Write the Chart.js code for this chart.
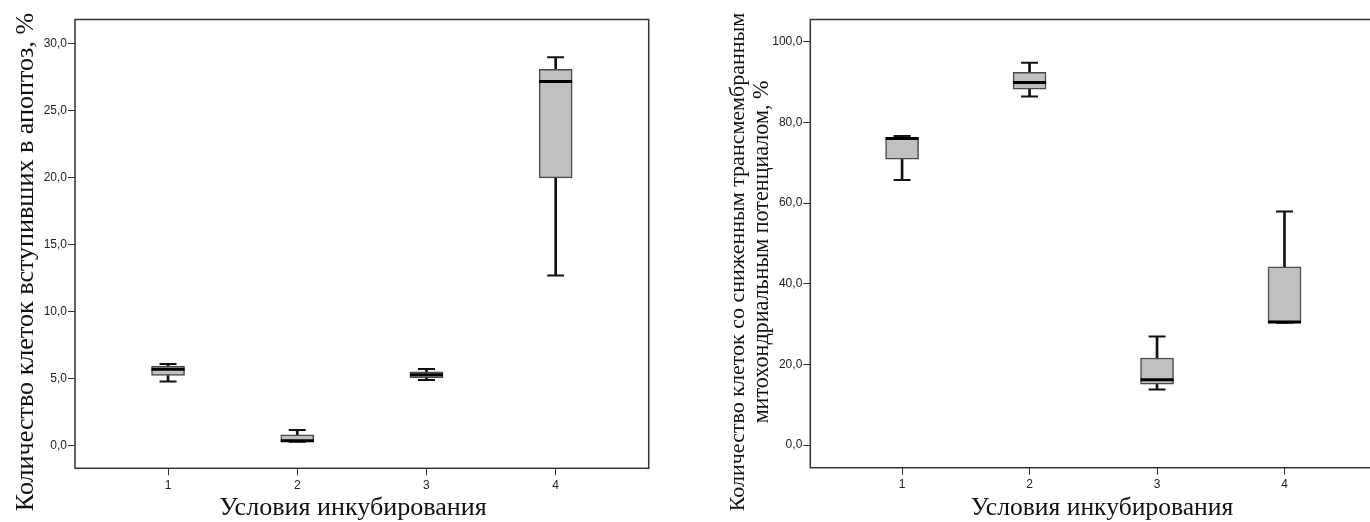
<!DOCTYPE html>
<html>
<head>
<meta charset="utf-8">
<script src="https://cdn.jsdelivr.net/npm/chart.js@4/dist/chart.umd.min.js"></script>
<style>
  body { margin: 0; width: 1370px; height: 522px; overflow: hidden; position: relative; background: #fff; }
  canvas { position: absolute; top: 0; }
</style>
</head>
<body>
<canvas id="apoptosis" width="685" height="522" style="left:0"></canvas>
<canvas id="potential" width="715" height="522" style="left:685px"></canvas>
<script>
// incubation conditions
const categories = [1, 2, 3, 4];

// left: cells in apoptosis, %
const apoMin    = [4.80, 0.30, 4.90, 12.7];
const apoQ1     = [5.25, 0.30, 5.07, 20.0];
const apoMedian = [5.70, 0.37, 5.29, 27.2];
const apoQ3     = [5.94, 0.80, 5.52, 28.1];
const apoMax    = [6.09, 1.17, 5.72, 29.0];
const apoTicks  = [0, 5, 10, 15, 20, 25, 30];

// right: cells with reduced mitochondrial membrane potential, %
const mmpMin    = [65.7, 86.4, 13.8, 30.3];
const mmpQ1     = [70.9, 88.2, 15.1, 30.3];
const mmpMedian = [76.0, 89.9, 16.2, 30.5];
const mmpQ3     = [76.2, 92.4, 21.6, 44.2];
const mmpMax    = [76.6, 94.8, 26.9, 57.9];
const mmpTicks  = [0, 20, 40, 60, 80, 100];

const xTitle = 'Условия инкубирования';
const apoTitle = 'Количество клеток вступивших в апоптоз, %';
const mmpTitle = ['Количество клеток со сниженным трансмембранным', 'митохондриальным потенциалом, %'];

// frame around the plot area
const frame = {
  id: 'frame',
  beforeDatasetsDraw(chart) {
    const { ctx, chartArea: a } = chart;
    ctx.save();
    ctx.strokeStyle = '#333';
    ctx.lineWidth = 1.5;
    ctx.strokeRect(a.left, a.top, a.right - a.left, a.bottom - a.top);
    ctx.restore();
  }
};

// serif axis titles, font size fitted to the given length
const axisTitles = {
  id: 'axisTitles',
  afterDraw(chart, args, opts) {
    const ctx = chart.ctx;
    for (const t of opts.items) {
      ctx.save();
      ctx.font = '20px "Liberation Serif"';
      const size = 20 * t.length / ctx.measureText(t.text).width;
      ctx.font = size.toFixed(1) + 'px "Liberation Serif"';
      ctx.fillStyle = '#111';
      ctx.textAlign = 'center';
      ctx.textBaseline = 'alphabetic';
      ctx.translate(t.x, t.y);
      if (t.rotate) ctx.rotate(-Math.PI / 2);
      ctx.fillText(t.text, 0, 0);
      ctx.restore();
    }
  }
};

function boxDatasets(lo, q1, med, q3, hi) {
  return [
    { // median
      type: 'scatter',
      data: categories.map((c, i) => ({ x: c, y: med[i] })),
      pointStyle: 'line', pointRadius: 16.5, pointBorderWidth: 3, pointBorderColor: '#000',
      order: 0
    },
    { // whisker caps
      type: 'scatter',
      data: categories.flatMap((c, i) => [{ x: c, y: lo[i] }, { x: c, y: hi[i] }]),
      pointStyle: 'line', pointRadius: 8.5, pointBorderWidth: 2, pointBorderColor: '#111',
      order: 1
    },
    { // box
      type: 'bar',
      data: categories.map((c, i) => ({ x: c, y: [q1[i], q3[i]] })),
      backgroundColor: '#c0c0c0', borderColor: '#4a4a4a', borderWidth: 1.5,
      borderSkipped: false, barThickness: 33, grouped: false,
      order: 2
    },
    { // whisker line
      type: 'bar',
      data: categories.map((c, i) => ({ x: c, y: [lo[i], hi[i]] })),
      backgroundColor: '#111', borderWidth: 0, barThickness: 2, grouped: false,
      order: 3
    }
  ];
}

function makeChart(id, datasets, cfg) {
  const tickFont = { family: '"Liberation Sans", Arial, sans-serif', size: 12 };
  return new Chart(document.getElementById(id), {
    type: 'bar',
    data: { datasets },
    options: {
      responsive: false,
      animation: false,
      events: [],
      layout: { padding: cfg.padding },
      plugins: {
        legend: { display: false },
        tooltip: { enabled: false },
        axisTitles: { items: cfg.titles }
      },
      scales: {
        x: {
          type: 'linear', min: 0.28, max: 4.72, offset: false,
          afterBuildTicks: s => { s.ticks = categories.map(v => ({ value: v })); },
          afterFit: s => { s.height = cfg.xHeight; },
          grid: { display: true, offset: false, drawOnChartArea: false, tickLength: 7, tickColor: '#333', lineWidth: 1 },
          border: { display: false },
          ticks: { font: tickFont, color: '#222', padding: 3, maxRotation: 0, callback: v => String(v) }
        },
        y: {
          type: 'linear', min: cfg.yMin, max: cfg.yMax,
          afterBuildTicks: s => { s.ticks = cfg.yTicks.map(v => ({ value: v })); },
          afterFit: s => { s.width = cfg.yWidth; },
          grid: { display: true, drawOnChartArea: false, tickLength: 7, tickColor: '#333', lineWidth: 1 },
          border: { display: false },
          ticks: { font: tickFont, color: '#222', padding: 1, callback: v => v.toFixed(1).replace('.', ',') }
        }
      }
    },
    plugins: [frame, axisTitles]
  });
}

makeChart('apoptosis', boxDatasets(apoMin, apoQ1, apoMedian, apoQ3, apoMax), {
  padding: { top: 19, right: 36.3, bottom: 0, left: 0 },
  xHeight: 53.7, yWidth: 75,
  yMin: -1.69, yMax: 31.82, yTicks: apoTicks,
  titles: [
    { text: apoTitle, x: 33, y: 262, rotate: true, length: 499 },
    { text: xTitle, x: 353, y: 515, length: 268 }
  ]
});

makeChart('potential', boxDatasets(mmpMin, mmpQ1, mmpMedian, mmpQ3, mmpMax), {
  padding: { top: 18.3, right: 23.7, bottom: 0, left: 0 },
  xHeight: 54.3, yWidth: 125.3,
  yMin: -5.6, yMax: 105.5, yTicks: mmpTicks,
  titles: [
    { text: mmpTitle[0], x: 59, y: 262, rotate: true, length: 499 },
    { text: mmpTitle[1], x: 83, y: 252, rotate: true, length: 343 },
    { text: xTitle, x: 417, y: 515, length: 262 }
  ]
});
</script>
</body>
</html>
